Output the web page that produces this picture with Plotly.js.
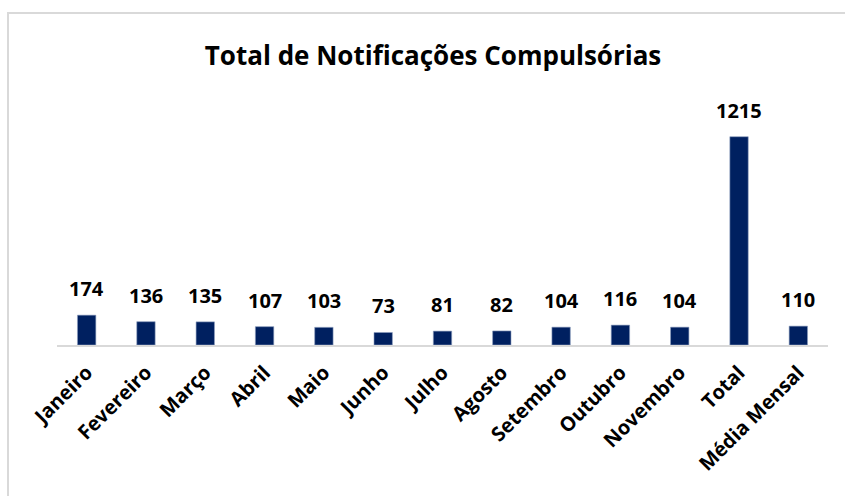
<!DOCTYPE html>
<html>
<head>
<meta charset="utf-8">
<script src="https://cdn.plot.ly/plotly-3.0.1.min.js"></script>
<style>
  html, body { margin: 0; padding: 0; background: #fff; }
  #wrap { position: relative; width: 845px; height: 496px; }
  #chart { position: absolute; left: 0; top: 0; width: 845px; height: 496px; }
  #frame { position: absolute; left: 7px; top: 12px; width: 845px; height: 500px;
           border-left: 2px solid #d9d9d9; border-top: 2px solid #d9d9d9; pointer-events: none; }
</style>
</head>
<body>
<div id="wrap">
  <div id="chart"></div>
  <div id="frame"></div>
</div>
<script>
const categories = ["Janeiro", "Fevereiro", "Março", "Abril", "Maio", "Junho", "Julho",
                    "Agosto", "Setembro", "Outubro", "Novembro", "Total", "Média Mensal"];
const values = [174, 136, 135, 107, 103, 73, 81, 82, 104, 116, 104, 1215, 110];
const chartTitle = "Total de Notificações Compulsórias";

const FONT = "Open Sans, Liberation Sans, sans-serif";

const trace = {
  type: "bar",
  x: categories,
  y: values,
  marker: { color: "#002060", line: { color: "#8ea0c0", width: 0.6 } },
  hoverinfo: "none"
};

const annotations = categories.map((c, i) => ({
  x: c, y: values[i], xref: "x", yref: "y",
  text: String(values[i]), showarrow: false,
  yanchor: "bottom", yshift: 11,
  font: { family: FONT, size: 20, color: "#000", weight: "bold" }
}));

const layout = {
  width: 845, height: 496,
  margin: { l: 57, r: 17, t: 105, b: 151 },
  paper_bgcolor: "rgba(0,0,0,0)",
  plot_bgcolor: "rgba(0,0,0,0)",
  bargap: 0.69,
  showlegend: false,
  title: {
    text: chartTitle,
    xref: "container", x: 0.5125, xanchor: "center",
    yref: "container", y: 1 - 56 / 496, yanchor: "middle",
    font: { family: FONT, size: 26, color: "#000", weight: "bold" }
  },
  xaxis: {
    type: "category",
    tickangle: -45,
    tickfont: { family: FONT, size: 20, color: "#000", weight: "bold" },
    ticklabelstandoff: 6,
    showline: true, linecolor: "#d9d9d9", linewidth: 2,
    ticks: "", showgrid: false, zeroline: false
  },
  yaxis: {
    range: [0, 1400],
    visible: false, showgrid: false, zeroline: false
  },
  annotations: annotations
};

Plotly.newPlot("chart", [trace], layout, { displayModeBar: false, staticPlot: true });
</script>
</body>
</html>
